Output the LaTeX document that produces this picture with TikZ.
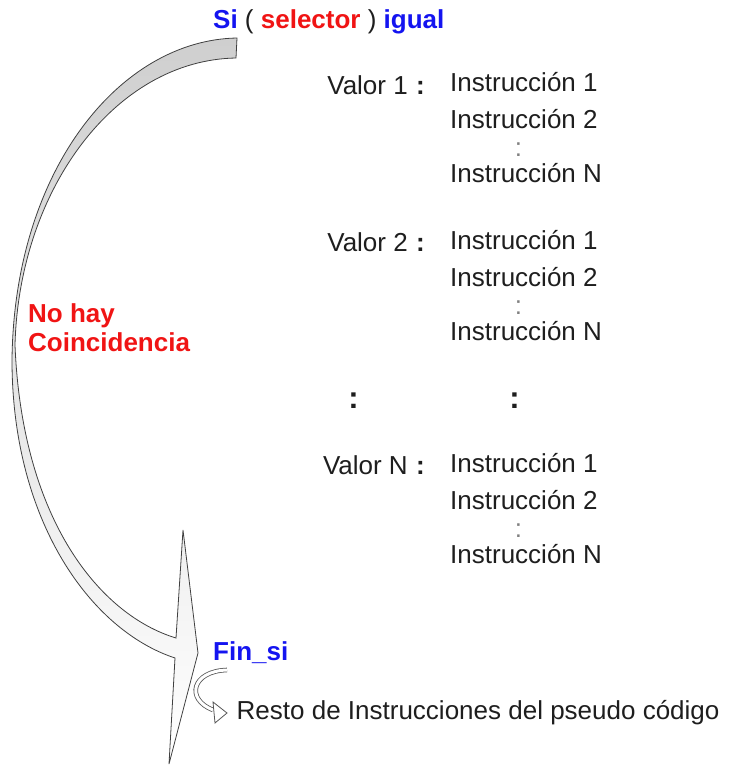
\documentclass[tikz,border=0pt]{standalone}
\usepackage{fontspec}
\setmainfont{Liberation Sans}
\usetikzlibrary{calc}
\definecolor{ink}   {HTML}{1E1E1E}
\definecolor{kwblue}{HTML}{1414F0}
\definecolor{kwred} {HTML}{F01414}
\definecolor{band}  {HTML}{CFCFCF}
\tikzset{
  lbl/.style={font=\fontsize{26}{30}\selectfont, text=ink, inner sep=0pt, anchor=base west},
  kwb/.style={lbl, font=\fontsize{26}{30}\selectfont\bfseries, text=kwblue},
  kwr/.style={lbl, font=\fontsize{26}{30}\selectfont\bfseries, text=kwred, align=left},
  sep/.style={lbl, font=\fontsize{26}{30}\selectfont\bfseries, anchor=base},
  bigsep/.style={lbl, font=\fontsize{31}{36}\selectfont\bfseries, anchor=base},
  gap/.style={lbl, text=gray, anchor=base},
  outline/.style={draw=ink!85, line width=0.8pt, line join=miter}
}

\begin{document}
\begin{tikzpicture}[x=1pt, y=-1pt]
 \useasboundingbox (0,0) rectangle (729,766);
 % big arrow: no match
 \path[outline, top color=band, middle color=white, bottom color=white]
   (237,38) .. controls (120,40) and (14,170) .. (12,360)
   .. controls (12,520) and (90,630) .. (175,658)
   -- (169,764) -- (198,653) -- (183,530) -- (176,638)
   .. controls (100,615) and (22,520) .. (15,345)
   .. controls (19,190) and (115,60) .. (236,58) -- cycle;
 % header
 \node[lbl] (si) at (213,28)
   {{\bfseries\color{kwblue}Si} ( {\bfseries\color{kwred}selector} ) {\bfseries\color{kwblue}igual}};
 % cases
 \foreach \v/\y in {1/91.5, 2/249, N/472} {
   \node[lbl, anchor=base east] (valor\v) at (408,\y+2.5) {Valor \v};
   \node[sep] (sep\v) at (420.5,\y+2.5) {:};
   \node[lbl] (ins\v-1) at (450,\y) {Instrucción 1};
   \node[lbl] (ins\v-2) at (450,\y+37) {Instrucción 2};
   \node[gap] (gap\v) at (518.5,\y+65) {:};
   \node[lbl] (ins\v-n) at (450,\y+91) {Instrucción N};
 }
 \node[bigsep] (moreval) at (353.5,408) {:};
 \node[bigsep] (moreins) at (514.5,408) {:};
 \node[kwr] (nomatch) at (28,351) {No hay\\[-1pt]Coincidencia};
 % end
 \node[kwb] (finsi) at (213,660) {Fin\_si};
 \node[lbl] (resto) at (236.5,719.5) {Resto de Instrucciones del pseudo código};
 \coordinate (tail) at (227,670);
 \coordinate (tip) at ($(resto.base west)+(-9.5,-6.5)$);
 \draw[draw=ink!75, line width=0.8pt, double=white, double distance=3pt]
   (tail) .. controls (192,671) and (185,699) .. ($(tip)+(-14,-3)$);
 \draw[draw=ink!75, line width=0.8pt, fill=white, line join=miter]
   ($(tip)+(-14,-11)$) -- (tip) -- ($(tip)+(-12,10)$) -- cycle;
\end{tikzpicture}
\end{document}
